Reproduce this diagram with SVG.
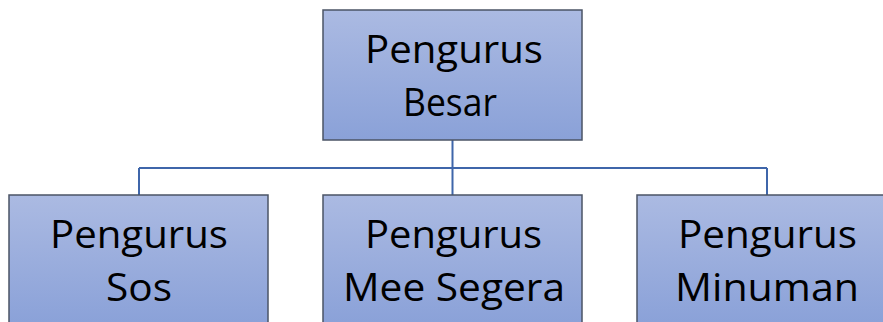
<svg xmlns="http://www.w3.org/2000/svg" width="883" height="322" viewBox="0 0 883 322">
  <defs>
    <linearGradient id="fill" x1="0" y1="0" x2="0" y2="1">
      <stop offset="0" stop-color="#abbae2"/>
      <stop offset="1" stop-color="#8aa1d8"/>
    </linearGradient>
    <style>
      .box { fill: url(#fill); stroke: #4b5466; stroke-width: 1.5; }
      .lbl { font-family: "Open Sans", "Liberation Sans", sans-serif; font-size: 39px; fill: #000; text-anchor: middle; }
      .conn { fill: none; stroke: #3f66aa; stroke-width: 2; }
    </style>
  </defs>
  <rect width="883" height="322" fill="#ffffff"/>
  <g id="connectors">
    <path class="conn" d="M452.5,140 V168 M139,168 H767 M139,168 V195 M452.5,168 V195 M767,168 V195"/>
  </g>
  <g id="pengurus-besar">
    <rect class="box" x="323" y="10" width="259" height="130"/>
    <text class="lbl" x="454" y="63" textLength="178" lengthAdjust="spacingAndGlyphs">Pengurus</text>
    <text class="lbl" x="450" y="116" textLength="94" lengthAdjust="spacingAndGlyphs">Besar</text>
  </g>
  <g id="pengurus-sos">
    <rect class="box" x="9" y="195" width="259" height="130"/>
    <text class="lbl" x="139" y="248" textLength="178" lengthAdjust="spacingAndGlyphs">Pengurus</text>
    <text class="lbl" x="139" y="301" textLength="66" lengthAdjust="spacingAndGlyphs">Sos</text>
  </g>
  <g id="pengurus-mee-segera">
    <rect class="box" x="323" y="195" width="259" height="130"/>
    <text class="lbl" x="453.5" y="248" textLength="177" lengthAdjust="spacingAndGlyphs">Pengurus</text>
    <text class="lbl" x="454" y="301" textLength="222" lengthAdjust="spacingAndGlyphs">Mee Segera</text>
  </g>
  <g id="pengurus-minuman">
    <rect class="box" x="637" y="195" width="259" height="130"/>
    <text class="lbl" x="767.5" y="248" textLength="179" lengthAdjust="spacingAndGlyphs">Pengurus</text>
    <text class="lbl" x="767" y="301" textLength="184" lengthAdjust="spacingAndGlyphs">Minuman</text>
  </g>
</svg>
